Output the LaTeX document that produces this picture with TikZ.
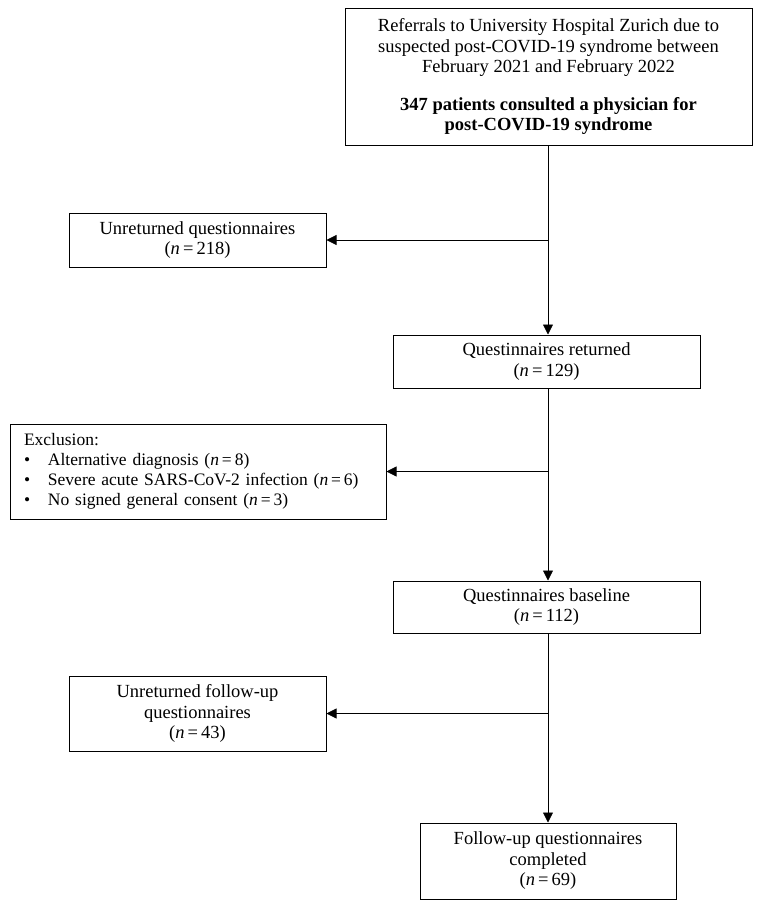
\documentclass[tikz,border=0pt]{standalone}
\usepackage{fontspec}
\setmainfont{Liberation Serif}
\usetikzlibrary{arrows.meta}
\tikzset{
  box/.style={draw, line width=1pt, align=center, inner sep=0pt,
    font=\fontsize{18.5}{20.5}\selectfont},
  link/.style={line width=0.8pt, -{Triangle[length=10pt,width=10pt]}},
  plain/.style={line width=0.8pt}
}
\newcommand{\nn}{\textit{n}\,=\,}
\begin{document}
\begin{tikzpicture}[x=1pt,y=-1pt]
\useasboundingbox (0,0) rectangle (766,911);
\node[box, minimum width=407pt, minimum height=137pt] (ref) at (548.5,76.5)
  {Referrals to University Hospital Zurich due to\\
   suspected post-COVID-19 syndrome between\\
   February 2021 and February 2022\\[17pt]
   \textbf{347 patients consulted a physician for}\\
   \textbf{post-COVID-19 syndrome}};
\node[box, minimum width=257pt, minimum height=54pt] (unret) at (197.5,240)
  {Unreturned questionnaires\\(\nn 218)};
\node[box, minimum width=307pt, minimum height=53pt] (ret) at (546.5,361.5)
  {Questinnaires returned\\(\nn 129)};
\node[box, font=\fontsize{17.5}{20}\selectfont, minimum width=376pt, minimum height=95pt,
  align=left, text width=348pt, inner xsep=14pt] (excl) at (198,471.5)
  {Exclusion:\\
   \makebox[24pt][l]{\textbullet}Alternative diagnosis (\nn 8)\\
   \makebox[24pt][l]{\textbullet}Severe acute SARS-CoV-2 infection (\nn 6)\\
   \makebox[24pt][l]{\textbullet}No signed general consent (\nn 3)};
\node[box, minimum width=307pt, minimum height=52pt] (base) at (546.5,607)
  {Questinnaires baseline\\(\nn 112)};
\node[box, minimum width=257pt, minimum height=75pt] (fuun) at (197.5,713.5)
  {Unreturned follow-up\\questionnaires\\(\nn 43)};
\node[box, minimum width=256pt, minimum height=76pt] (fuc) at (548,861)
  {Follow-up questionnaires\\completed\\(\nn 69)};
\coordinate (j1) at (548,240);
\coordinate (j2) at (548,471.5);
\coordinate (j3) at (548,713.5);
\draw[link] (ref.south -| j1) -- (ret.north -| j1);
\draw[link] (ret.south -| j1) -- (base.north -| j1);
\draw[link] (base.south -| j1) -- (fuc.north -| j1);
\draw[link] (j1) -- (unret.east);
\draw[link] (j2) -- (excl.east);
\draw[link] (j3) -- (fuun.east);
\end{tikzpicture}
\end{document}
